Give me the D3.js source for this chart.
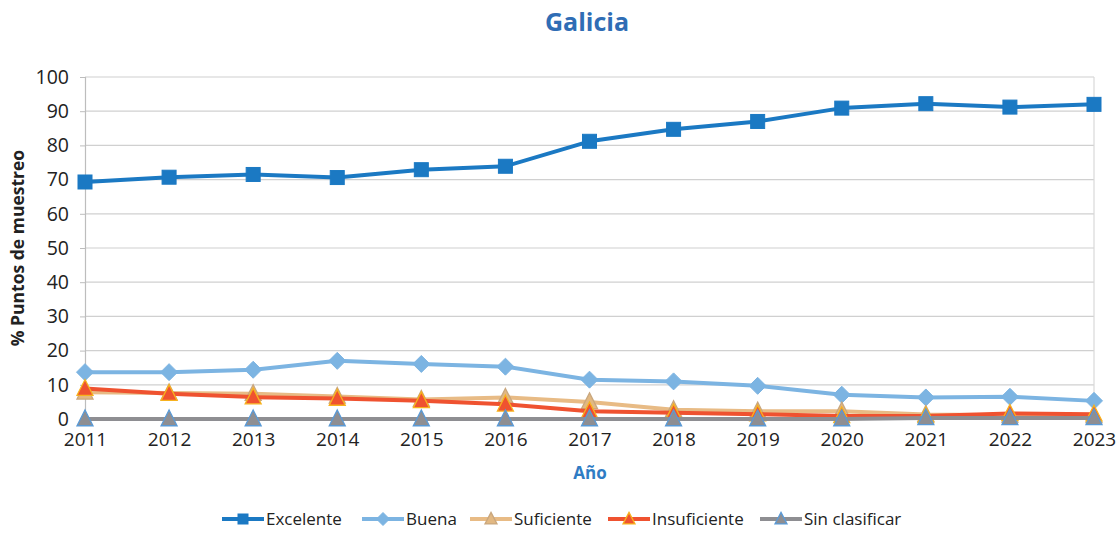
<!DOCTYPE html>
<html><head><meta charset="utf-8">
<script src="https://cdn.jsdelivr.net/npm/d3@7"></script>
<style>body{margin:0;background:#fff}svg{display:block}</style>
</head><body><svg id="c" width="1120" height="534"></svg>
<script>
const years = [2011,2012,2013,2014,2015,2016,2017,2018,2019,2020,2021,2022,2023];
const excelente = [69.3,70.7,71.5,70.6,72.9,73.9,81.2,84.7,87.0,90.9,92.2,91.2,92.0];
const buena = [13.7,13.7,14.4,17.0,16.1,15.3,11.5,11.0,9.7,7.1,6.3,6.5,5.3];
const suficiente = [7.8,7.6,7.4,6.6,5.7,6.3,5.0,2.7,2.3,2.3,1.3,1.1,0.9];
const insuficiente = [8.9,7.4,6.4,6.0,5.3,4.3,2.3,1.8,1.4,0.9,0.9,1.6,1.4];
const sinClasificar = [0,0,0,0,0,0,0,0,0,0,0.3,0.3,0.3];
const yTicks = [0,10,20,30,40,50,60,70,80,90,100];
const seriesNames = ["Excelente","Buena","Suficiente","Insuficiente","Sin clasificar"];

const series = [
  {name:seriesNames[0], values:excelente, color:"#1b79c3", marker:"square", fill:"#1b79c3", stroke:"#1b79c3"},
  {name:seriesNames[1], values:buena, color:"#7cb4e2", marker:"diamond", fill:"#7cb4e2", stroke:"#7cb4e2"},
  {name:seriesNames[2], values:suficiente, color:"#e8bb85", marker:"triangle", fill:"#e2b882", stroke:"#c9a77e"},
  {name:seriesNames[3], values:insuficiente, color:"#ef5230", marker:"triangle", fill:"#ef5230", stroke:"#f7b21e"},
  {name:seriesNames[4], values:sinClasificar, color:"#8e8e92", marker:"triangle", fill:"#8e8e92", stroke:"#5a9ad6"}
];

const svg = d3.select("#c");
const font = "'Open Sans', sans-serif";
const x = d3.scaleLinear().domain([2011,2023]).range([85,1094]);
const y = d3.scaleLinear().domain([0,100]).range([419,77]);

// gridlines
svg.append("g").selectAll("line").data(yTicks.filter(d=>d>0)).join("line")
  .attr("x1",85).attr("x2",1094).attr("y1",d=>y(d)).attr("y2",d=>y(d))
  .attr("stroke","#d0d0d0").attr("stroke-width",1.2);
// right border
svg.append("line").attr("x1",1094).attr("x2",1094).attr("y1",y(100)).attr("y2",y(0))
  .attr("stroke","#d9d9d9").attr("stroke-width",1.2);

// y axis
const ya = svg.append("g").attr("transform","translate(85,0)")
  .call(d3.axisLeft(y).tickValues(yTicks).tickSize(5).tickPadding(11));
ya.select(".domain").attr("stroke","#bdbdbd").attr("stroke-width",1.2);
ya.selectAll(".tick line").attr("stroke","#bdbdbd");
ya.selectAll("text").attr("font-family",font).attr("font-size",19.5).attr("fill","#222");

// x axis labels
const xa = svg.append("g").attr("transform","translate(0,"+y(0)+")")
  .call(d3.axisBottom(x).tickValues(years).tickFormat(d3.format("d")).tickSize(0).tickPadding(14));
xa.select(".domain").attr("stroke","#bdbdbd");
xa.selectAll("text").attr("font-family",font).attr("font-size",19).attr("fill","#222");

// titles
svg.append("text").attr("x",587).attr("y",31).attr("text-anchor","middle")
  .attr("font-family",font).attr("font-weight","bold").attr("font-size",25).attr("fill","#2f6db5").text("Galicia");
svg.append("text").attr("x",590).attr("y",479).attr("text-anchor","middle")
  .attr("font-family",font).attr("font-weight","bold").attr("font-size",17).attr("fill","#2f7cc4").text("Año");
svg.append("text").attr("transform","translate(24,248) rotate(-90)").attr("text-anchor","middle")
  .attr("font-family",font).attr("font-weight","bold").attr("font-size",17.5).attr("fill","#222").text("% Puntos de muestreo");

function drawMarker(g, type, cx, cy, s, fill, stroke){
  if(type==="square"){
    g.append("rect").attr("x",cx-s/2).attr("y",cy-s/2).attr("width",s).attr("height",s)
      .attr("fill",fill).attr("stroke",stroke).attr("stroke-width",1);
  } else if(type==="diamond"){
    const r=s/2+1.5;
    g.append("path").attr("d",`M${cx},${cy-r}L${cx+r},${cy}L${cx},${cy+r}L${cx-r},${cy}Z`)
      .attr("fill",fill).attr("stroke",stroke).attr("stroke-width",1);
  } else {
    const h=s+1, w=s+2;
    g.append("path").attr("d",`M${cx},${cy-h*0.6}L${cx+w/2},${cy+h*0.45}L${cx-w/2},${cy+h*0.45}Z`)
      .attr("fill",fill).attr("stroke",stroke).attr("stroke-width",1.3);
  }
}

const line = d3.line().x((d,i)=>x(years[i])).y(d=>y(d));
series.forEach(s=>{
  const g = svg.append("g");
  g.append("path").attr("d",line(s.values)).attr("fill","none")
    .attr("stroke",s.color).attr("stroke-width",4).attr("stroke-linejoin","round");
  s.values.forEach((v,i)=>drawMarker(g,s.marker,x(years[i]),y(v),14,s.fill,s.stroke));
});

// legend
const legX = [222,362,470,608,760];
const lg = svg.append("g");
series.forEach((s,i)=>{
  const lx = legX[i], ly = 519;
  lg.append("line").attr("x1",lx).attr("x2",lx+42).attr("y1",ly).attr("y2",ly)
    .attr("stroke",s.color).attr("stroke-width",4);
  drawMarker(lg,s.marker,lx+21,ly,10,s.fill,s.stroke);
  lg.append("text").attr("x",lx+44).attr("y",ly+6).attr("font-family",font).attr("font-size",17)
    .attr("fill","#222").text(s.name);
});
</script></body></html>
